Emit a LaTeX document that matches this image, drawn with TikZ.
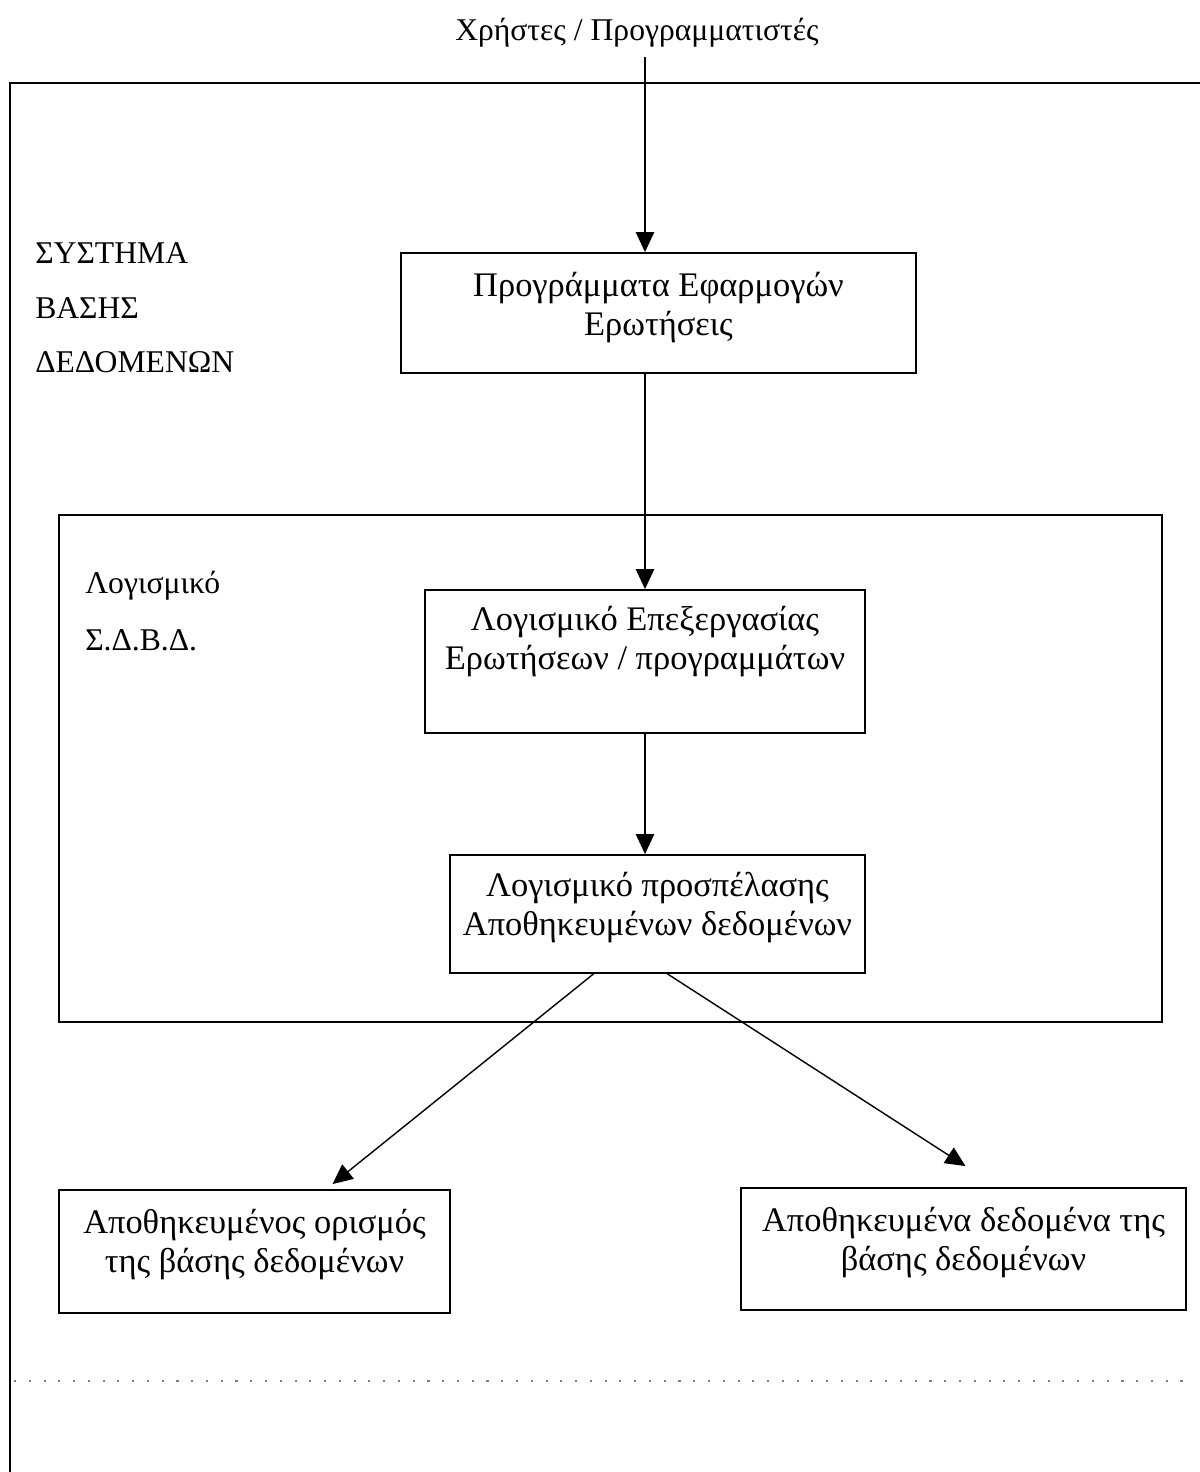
\documentclass[tikz,border=0pt]{standalone}
\usepackage{fontspec}
\setmainfont{Liberation Serif}
\usepackage{tikz}
\usetikzlibrary{arrows.meta,positioning,calc}
\tikzset{
  block/.style={rectangle, draw=black, line width=1.3pt, align=center,
                inner sep=0pt, font=\fontsize{24.5}{27.5}\selectfont},
  frame/.style={draw=black, line width=1.5pt},
  arrow/.style={-{Triangle[length=0.5cm, width=0.46cm]}, line width=1pt, black},
  label/.style={anchor=base west, inner sep=0pt, font=\fontsize{22.5}{27.5}\selectfont},
}
\begin{document}
\begin{tikzpicture}[x=0.025cm, y=-0.025cm]
\useasboundingbox (0,0) rectangle (1200,1472);
\coordinate (axis) at (645,0);
\draw[frame] (1200,83) -- (10,83) -- (10,1472);
\draw[gray, line width=0.8pt, dash pattern=on 1.5pt off 9pt] (14,1381) -- (1190,1381);
\node[label, anchor=base] (title) at (637,41) {Χρήστες / Προγραμματιστές};
\foreach \t/\y in {ΣΥΣΤΗΜΑ/263, ΒΑΣΗΣ/318, ΔΕΔΟΜΕΝΩΝ/372}
  \node[label] at (35,\y) {\t};
\node[frame, rectangle, minimum width=1103*0.025cm, minimum height=507*0.025cm] (sdbd) at (610.5,768.5) {};
\node[label] (soft1) at (85,593) {Λογισμικό};
\node[label] (soft2) at (85,650) {Σ.Δ.Β.Δ.};
\node[block, minimum width=515*0.025cm, minimum height=120*0.025cm] (apps) at (658.5,313) {Προγράμματα Εφαρμογών\\Ερωτήσεις\\[-0.5cm]};
\node[block, minimum width=440*0.025cm, minimum height=143*0.025cm] (query) at (645,661.5) {Λογισμικό Επεξεργασίας\\Ερωτήσεων / προγραμμάτων\\[0.2cm]};
\node[block, minimum width=415*0.025cm, minimum height=118*0.025cm] (access) at (657.5,914) {Λογισμικό προσπέλασης\\Αποθηκευμένων δεδομένων\\[-0.45cm]};
\node[block, minimum width=391*0.025cm, minimum height=123*0.025cm] (defn) at (254.5,1251.5) {Αποθηκευμένος ορισμός\\της βάσης δεδομένων\\[-0.45cm]};
\node[block, minimum width=445*0.025cm, minimum height=122*0.025cm] (data) at (963.5,1249) {Αποθηκευμένα δεδομένα της\\βάσης δεδομένων\\[-0.45cm]};
\draw[arrow] ([yshift=-0.4cm]title.base -| axis) -- (apps.north -| axis);
\draw[arrow] (apps.south -| axis) -- (query.north -| axis);
\draw[arrow] (query.south -| axis) -- (access.north -| axis);
\draw[arrow] ($(access.south)+(-64,0)$) -- ($(defn.north)+(78,-5)$);
\draw[arrow] ($(access.south)+(10,0)$) -- ($(data.north)+(2,-21)$);
\end{tikzpicture}
\end{document}
